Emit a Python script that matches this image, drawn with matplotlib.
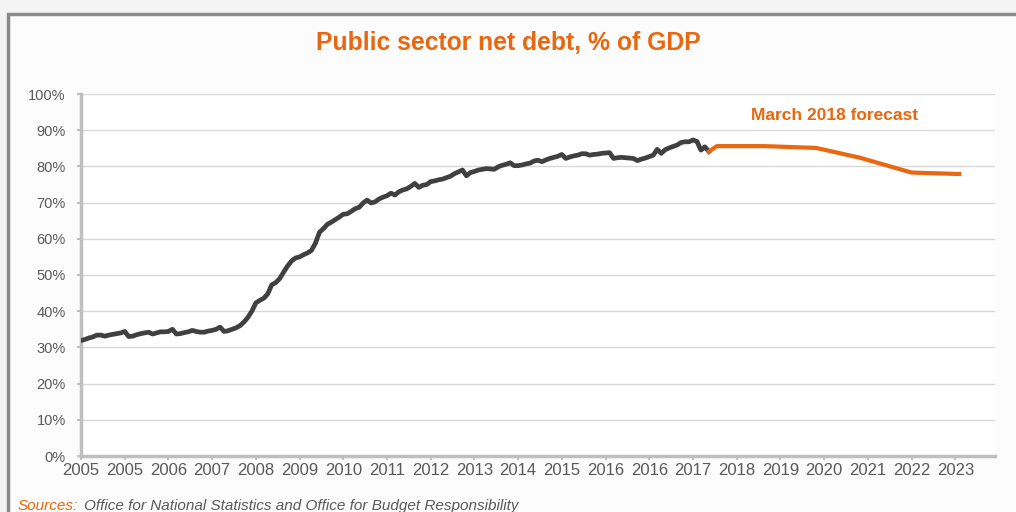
import matplotlib.pyplot as plt
from matplotlib.patches import Rectangle

ORANGE = '#e8670f'
DARK = '#404040'
GREY_TXT = '#595959'

# monthly outturn from Jan 2005, % of GDP
outturn = [
    31.9, 32.2, 32.6, 32.9, 33.4, 33.4, 33.1, 33.4, 33.6, 33.8, 34.0, 34.4,
    33.0, 33.1, 33.5, 33.8, 34.0, 34.2, 33.7, 34.0, 34.3, 34.3, 34.4, 35.0,
    33.7, 33.8, 34.1, 34.3, 34.7, 34.4, 34.2, 34.2, 34.5, 34.7, 35.0, 35.6,
    34.4, 34.6, 35.0, 35.4, 36.0, 37.0, 38.3, 40.0, 42.3, 43.0, 43.6, 44.8,
    47.3, 47.9, 49.0, 50.8, 52.5, 53.9, 54.7, 55.0, 55.6, 56.1, 56.8, 58.8,
    61.8, 62.8, 64.0, 64.6, 65.3, 66.0, 66.8, 66.9, 67.6, 68.3, 68.7, 69.9,
    70.7, 69.9, 70.2, 71.0, 71.5, 71.9, 72.6, 72.1, 73.0, 73.5, 73.8, 74.5,
    75.3, 74.2, 74.8, 75.0, 75.8, 76.0, 76.3, 76.5, 76.9, 77.3, 78.0, 78.5,
    79.0, 77.4, 78.3, 78.6, 79.0, 79.2, 79.4, 79.3, 79.2, 79.9, 80.3, 80.6,
    81.0, 80.2, 80.2, 80.4, 80.7, 80.9, 81.5, 81.7, 81.3, 81.8, 82.2, 82.5,
    82.8, 83.3, 82.2, 82.6, 82.9, 83.1, 83.5, 83.5, 83.1, 83.3, 83.4, 83.6,
    83.7, 83.8, 82.2, 82.4, 82.5, 82.4, 82.3, 82.2, 81.6, 82.0, 82.3, 82.7,
    83.1, 84.7, 83.6, 84.6, 85.1, 85.5, 85.9, 86.6, 86.8, 86.8, 87.3, 86.9,
    84.5, 85.4, 84.1,
]
outturn_months = list(range(len(outturn)))

# March 2018 forecast points
forecast_months = [158, 160, 172, 185, 196, 209, 221]
forecast = [84.1, 85.6, 85.6, 85.1, 82.4, 78.3, 77.9]

tick_months = list(range(0, 221, 11))
tick_labels = ['2005', '2005', '2006', '2007', '2008', '2009', '2010', '2011',
               '2012', '2013', '2014', '2015', '2016', '2016', '2017', '2018',
               '2019', '2020', '2021', '2022', '2023']
y_ticks = list(range(0, 101, 10))

plt.rcParams['font.family'] = ['Liberation Sans', 'DejaVu Sans']

fig = plt.figure(figsize=(10.16, 5.12), dpi=100)
fig.patch.set_facecolor('#f4f4f4')

# framed panel behind everything
panel = Rectangle((8 / 1016, -0.05), 1.1, 1 - 14 / 512 + 0.05,
                  transform=fig.transFigure, facecolor='#fcfcfc',
                  edgecolor='#8a8a8a', linewidth=2.5, zorder=-10)
fig.add_artist(panel)

ax = fig.add_axes([81 / 1016, 1 - 456 / 512, (995 - 81) / 1016, (456 - 94) / 512])
ax.set_facecolor('white')

ax.plot(outturn_months, outturn, color=DARK, linewidth=3.4,
        solid_joinstyle='round', zorder=3)
ax.plot(forecast_months, forecast, color=ORANGE, linewidth=3.0,
        solid_joinstyle='round', zorder=3)

ax.set_xlim(0, 230)
ax.set_ylim(0, 100)
ax.set_yticks(y_ticks)
ax.set_yticklabels(['%d%%' % v for v in y_ticks])
ax.set_xticks(tick_months)
ax.set_xticklabels(tick_labels)

ax.grid(True, axis='y', color='#d9d9d9', linewidth=1.0)
ax.set_axisbelow(True)
for side in ['top', 'right']:
    ax.spines[side].set_visible(False)
for side in ['left', 'bottom']:
    ax.spines[side].set_color('#bfbfbf')
    ax.spines[side].set_linewidth(2.5)

ax.tick_params(axis='both', colors='#bfbfbf', length=3, width=1.5,
               labelcolor=GREY_TXT)
ax.tick_params(axis='y', labelsize=10.5, pad=8)
ax.tick_params(axis='x', labelsize=12, pad=2)

fig.text(0.5, 1 - 43 / 512, 'Public sector net debt, % of GDP', color=ORANGE,
         fontsize=17.8, fontweight='bold', ha='center', va='center')
fig.text(835 / 1016, 1 - 116 / 512, 'March 2018 forecast', color=ORANGE,
         fontsize=12.5, fontweight='bold', ha='center', va='center')

fig.text(18 / 1016, 1 - 506 / 512, 'Sources:', color=ORANGE,
         fontsize=11, style='italic', ha='left', va='center')
fig.text(84 / 1016, 1 - 506 / 512,
         'Office for National Statistics and Office for Budget Responsibility',
         color=GREY_TXT, fontsize=11, style='italic', ha='left', va='center')

fig.savefig('out.png', dpi=100, facecolor=fig.get_facecolor())
